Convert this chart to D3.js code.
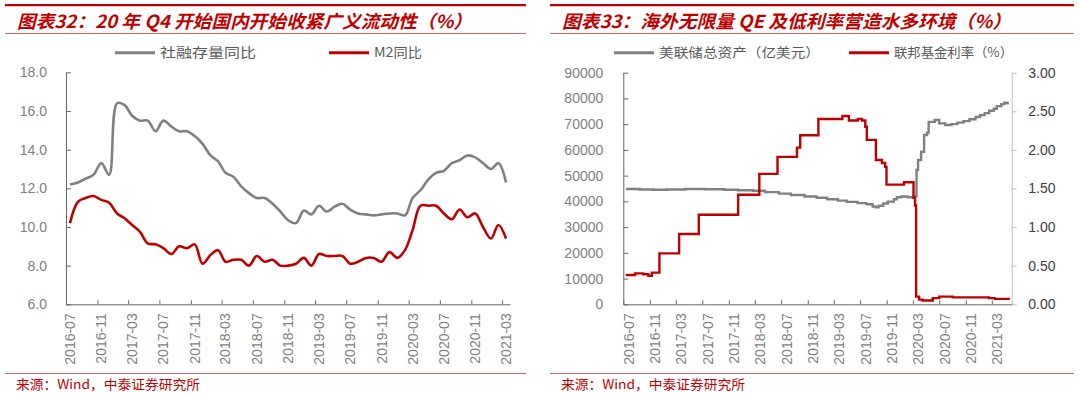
<!DOCTYPE html>
<html>
<head>
<meta charset="utf-8">
<script src="https://cdn.jsdelivr.net/npm/d3@7"></script>
<style>
body { margin: 0; background: #fff; }
svg text { font-family: "Liberation Sans", Arial, "Noto Sans CJK SC", sans-serif; }
.cjk { font-family: "Noto Sans CJK SC", sans-serif !important; }
</style>
</head>
<body>
<div id="chart"></div>
<script>
// ---- chart 32: 社融 / M2 (monthly, %)
var months = ["2016-07","2016-08","2016-09","2016-10","2016-11","2016-12",
  "2017-01","2017-02","2017-03","2017-04","2017-05","2017-06","2017-07","2017-08","2017-09","2017-10","2017-11","2017-12",
  "2018-01","2018-02","2018-03","2018-04","2018-05","2018-06","2018-07","2018-08","2018-09","2018-10","2018-11","2018-12",
  "2019-01","2019-02","2019-03","2019-04","2019-05","2019-06","2019-07","2019-08","2019-09","2019-10","2019-11","2019-12",
  "2020-01","2020-02","2020-03","2020-04","2020-05","2020-06","2020-07","2020-08","2020-09","2020-10","2020-11","2020-12",
  "2021-01","2021-02","2021-03"];
var tsfYoY = [12.2,12.3,12.5,12.7,13.3,12.7,16.4,16.3,15.75,15.5,15.5,14.95,15.5,15.2,14.95,14.95,14.7,14.3,13.7,13.4,
  12.8,12.6,12.1,11.75,11.5,11.5,11.2,10.8,10.35,10.2,10.85,10.65,11.1,10.8,11.05,11.2,10.9,10.7,10.65,10.6,
  10.65,10.7,10.7,10.6,11.5,11.9,12.45,12.8,12.9,13.3,13.45,13.7,13.6,13.3,13.0,13.3,12.3];
var m2YoY = [10.2,11.3,11.5,11.6,11.4,11.25,10.7,10.45,10.1,9.75,9.15,9.1,8.9,8.6,9.0,8.9,9.1,8.1,8.55,8.8,
  8.2,8.3,8.3,8.0,8.5,8.2,8.3,8.0,8.0,8.1,8.4,8.0,8.6,8.5,8.5,8.5,8.1,8.2,8.4,8.4,
  8.2,8.7,8.4,8.8,9.85,11.1,11.1,11.1,10.7,10.4,10.9,10.5,10.7,10.0,9.4,10.1,9.4];
var yTicks32 = [6, 8, 10, 12, 14, 16, 18];
var xTicks = ["2016-07","2016-11","2017-03","2017-07","2017-11","2018-03","2018-07","2018-11",
  "2019-03","2019-07","2019-11","2020-03","2020-07","2020-11","2021-03"];

// ---- chart 33: 美联储总资产 (亿美元) / 联邦基金利率 (%)
var assetDates = ["2016-07-13","2016-09-14","2016-11-16","2017-01-18","2017-04-12","2017-07-12","2017-10-11","2017-12-13",
  "2018-02-21","2018-04-18","2018-06-20","2018-08-15","2018-10-17","2018-12-12","2019-01-30","2019-03-20","2019-05-01",
  "2019-06-19","2019-07-31","2019-08-28","2019-09-11","2019-09-25","2019-10-16","2019-11-06","2019-12-04","2019-12-18",
  "2020-01-08","2020-02-05","2020-03-04","2020-03-18","2020-03-25","2020-04-08","2020-04-22","2020-05-06","2020-05-13",
  "2020-06-10","2020-07-01","2020-07-29","2020-08-26","2020-09-23","2020-10-21","2020-11-18","2020-12-16","2021-01-06",
  "2021-01-27","2021-02-17","2021-03-10","2021-03-24","2021-04-14","2021-04-28","2021-05-12","2021-05-19"];
var fedAssets = [44800,44600,44500,44600,44800,44700,44500,44300,
  44100,43600,43000,42500,41900,41400,40800,40300,39800,
  39300,38900,38000,37700,38300,39200,39900,40800,41600,
  41900,41600,42100,52200,56100,59300,65800,66700,70900,
  71600,70300,69700,70000,70600,71200,71900,72800,73500,
  74300,75200,76000,77000,77800,78300,78100,78100];
var rateDates = ["2016-07-12","2016-08-25","2016-10-01","2016-10-25","2016-11-10","2016-12-15","2017-03-16","2017-06-15",
  "2017-12-14","2018-03-22","2018-06-14","2018-09-12","2018-09-27","2018-12-20","2019-04-10","2019-05-10","2019-06-20",
  "2019-07-10","2019-07-25","2019-08-01","2019-09-12","2019-10-10","2019-10-25","2019-10-31","2020-01-20","2020-03-04",
  "2020-03-11","2020-03-16","2020-03-30","2020-04-15","2020-06-01","2020-07-01","2020-09-01","2021-01-15","2021-02-15",
  "2021-03-15","2021-05-19"];
var fedRates = [0.38,0.40,0.39,0.37,0.41,0.66,0.91,1.16,
  1.42,1.69,1.91,2.03,2.19,2.40,2.44,2.38,2.40,
  2.38,2.30,2.13,1.87,1.83,1.78,1.55,1.58,1.38,
  1.28,0.10,0.06,0.05,0.08,0.10,0.09,0.09,0.08,
  0.07,0.06];
var assetTicks = [0,10000,20000,30000,40000,50000,60000,70000,80000,90000];
var rateTicks = [0,0.5,1,1.5,2,2.5,3];

var RED = "#c00000", GRAY = "#808080";
var parseM = d3.timeParse("%Y-%m"), parseD = d3.timeParse("%Y-%m-%d");

var svg = d3.select("#chart").append("svg")
  .attr("width", 1080).attr("height", 393);

function frame(x0, x1, title, titleLen) {
  svg.append("line").attr("x1", x0).attr("x2", x1).attr("y1", 5.2).attr("y2", 5.2)
    .attr("stroke", RED).attr("stroke-width", 2.2);
  svg.append("text").attr("class", "cjk").attr("x", x0 + 12).attr("y", 28)
    .attr("textLength", titleLen).attr("lengthAdjust", "spacingAndGlyphs")
    .style("font-size", "18px").style("font-weight", "bold").style("font-style", "italic")
    .attr("fill", RED).text(title);
  svg.append("line").attr("x1", x0).attr("x2", x1).attr("y1", 33.5).attr("y2", 33.5)
    .attr("stroke", "#e06666").attr("stroke-width", 1);
  svg.append("line").attr("x1", x0).attr("x2", x1).attr("y1", 373.5).attr("y2", 373.5)
    .attr("stroke", "#e06666").attr("stroke-width", 1);
  svg.append("text").attr("class", "cjk").attr("x", x0 + 11).attr("y", 389)
    .attr("textLength", 184).attr("lengthAdjust", "spacingAndGlyphs")
    .style("font-size", "13px").attr("fill", RED).text("来源：Wind，中泰证券研究所");
}

function legendItem(x, y, color, label, textLen) {
  svg.append("line").attr("x1", x).attr("x2", x + 40).attr("y1", y).attr("y2", y)
    .attr("stroke", color).attr("stroke-width", 3);
  svg.append("text").attr("class", "cjk").attr("x", x + 45).attr("y", y + 4.5)
    .attr("textLength", textLen).attr("lengthAdjust", "spacingAndGlyphs")
    .style("font-size", "13px").attr("fill", "#595959").text(label);
}

function styleXAxis(g, shift) {
  g.select(".domain").attr("stroke", "#666");
  g.selectAll(".tick line").attr("stroke", "#666");
  g.selectAll("text")
    .attr("transform", "rotate(-90)")
    .attr("text-anchor", "end")
    .attr("x", -9).attr("y", shift).attr("dy", "0.35em")
    .attr("fill", "#7f7f7f").style("font-size", "14px");
}

// ================= chart 32 =================
frame(5, 526, "图表32：20 年 Q4 开始国内开始收紧广义流动性（%）", 455);
legendItem(115, 52.7, GRAY, "社融存量同比", 96);
legendItem(329, 52.7, RED, "M2同比", 48);

var x32 = d3.scaleTime().domain([parseM("2016-07"), parseM("2021-04")]).range([66, 510]);
var y32 = d3.scaleLinear().domain([6, 18]).range([304.3, 72.3]);
function midMonth(s) {
  var d = parseM(s);
  return (x32(d) + x32(d3.timeMonth.offset(d, 1))) / 2;
}

var gx32 = svg.append("g").attr("transform", "translate(0,304.3)")
  .call(d3.axisBottom(x32).tickValues(xTicks.map(parseM)).tickSize(-4).tickSizeOuter(0)
    .tickFormat(d3.timeFormat("%Y-%m")));
styleXAxis(gx32, 3.5);

var gy32 = svg.append("g").attr("transform", "translate(66,0)")
  .call(d3.axisLeft(y32).tickValues(yTicks32).tickSize(-5).tickSizeOuter(0).tickPadding(19)
    .tickFormat(d3.format(".1f")));
gy32.select(".domain").attr("stroke", "#666");
gy32.selectAll(".tick line").attr("stroke", "#666");
gy32.selectAll("text").attr("fill", "#7f7f7f").style("font-size", "14px");

var line32 = d3.line()
  .x(function(d, i) { return midMonth(months[i]); })
  .y(function(d) { return y32(d); })
  .curve(d3.curveCatmullRom.alpha(0.5));

svg.append("path").datum(tsfYoY).attr("d", line32)
  .attr("fill", "none").attr("stroke", GRAY).attr("stroke-width", 2.6);
svg.append("path").datum(m2YoY).attr("d", line32)
  .attr("fill", "none").attr("stroke", RED).attr("stroke-width", 2.6);

// ================= chart 33 =================
frame(550, 1074, "图表33：海外无限量 QE 及低利率营造水多环境（%）", 449);
legendItem(614, 52.7, GRAY, "美联储总资产（亿美元）", 161);
legendItem(849, 52.7, RED, "联邦基金利率（%）", 119);

var x33 = d3.scaleTime().domain([parseM("2016-07"), parseM("2021-06")]).range([623.3, 1011.7]);
var yA = d3.scaleLinear().domain([0, 90000]).range([304.3, 72.7]);
var yR = d3.scaleLinear().domain([0, 3]).range([304.3, 72.7]);

var gyR = svg.append("g").attr("transform", "translate(1011.7,0)")
  .call(d3.axisRight(yR).tickValues(rateTicks).tickSize(5).tickSizeOuter(0).tickPadding(11.6)
    .tickFormat(d3.format(".2f")));
gyR.select(".domain").attr("stroke", "#bfbfbf");
gyR.selectAll(".tick line").attr("stroke", "#bfbfbf");
gyR.selectAll("text").attr("fill", "#404040").style("font-size", "14px");

var gx33 = svg.append("g").attr("transform", "translate(0,304.3)")
  .call(d3.axisBottom(x33).tickValues(xTicks.map(parseM)).tickSize(-4).tickSizeOuter(0)
    .tickFormat(d3.timeFormat("%Y-%m")));
styleXAxis(gx33, 5);

var gyA = svg.append("g").attr("transform", "translate(623.3,0)")
  .call(d3.axisLeft(yA).tickValues(assetTicks).tickSize(-5).tickSizeOuter(0).tickPadding(20)
    .tickFormat(d3.format("d")));
gyA.select(".domain").attr("stroke", "#666");
gyA.selectAll(".tick line").attr("stroke", "#666");
gyA.selectAll("text").attr("fill", "#7f7f7f").style("font-size", "14px");

var assetLine = d3.line()
  .x(function(d, i) { return x33(parseD(assetDates[i])); })
  .y(function(d) { return yA(d); })
  .curve(d3.curveStepAfter);
var rateLine = d3.line()
  .x(function(d, i) { return x33(parseD(rateDates[i])); })
  .y(function(d) { return yR(d); })
  .curve(d3.curveStepAfter);

svg.append("path").datum(fedAssets).attr("d", assetLine)
  .attr("fill", "none").attr("stroke", GRAY).attr("stroke-width", 2.4);
svg.append("path").datum(fedRates).attr("d", rateLine)
  .attr("fill", "none").attr("stroke", RED).attr("stroke-width", 2.4);
</script>
</body>
</html>
